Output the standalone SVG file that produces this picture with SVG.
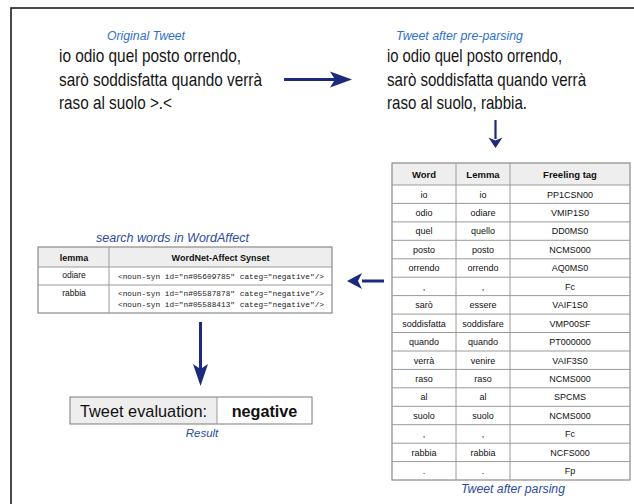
<svg xmlns="http://www.w3.org/2000/svg" width="634" height="504" viewBox="0 0 634 504">
  <style>
    .lbl { font-family: "Liberation Sans", Arial, sans-serif; font-style: italic; font-size: 12.3px; }
    .lbl-a { fill: #2f6fcf; }
    .lbl-b { fill: #2b4ba3; }
    .tweet { font-family: "Liberation Sans Narrow", "Liberation Sans", Arial, sans-serif; font-size: 18.5px; fill: #141414; }
    .th { font-family: "Liberation Sans", Arial, sans-serif; font-size: 9.5px; font-weight: bold; fill: #111; text-anchor: middle; }
    .td { font-family: "Liberation Sans", Arial, sans-serif; font-size: 9px; fill: #111; text-anchor: middle; }
    .mono { font-family: "Liberation Mono", "Courier New", monospace; font-size: 7.8px; fill: #222; }
    .grid { stroke: #9a9a9a; stroke-width: 1; fill: none; }
    .hdr { fill: #eeeeee; }
    .arrow { stroke: #1b2a7e; stroke-width: 3; fill: none; }
    .head { fill: #1b2a7e; }
  </style>

  <!-- outer frame -->
  <rect x="11" y="8" width="640" height="520" fill="#ffffff" stroke="#1e1e1e" stroke-width="1.6"/>

  <!-- original tweet -->
  <g id="original-tweet">
    <text class="lbl lbl-a" x="107" y="40" textLength="78" lengthAdjust="spacingAndGlyphs">Original Tweet</text>
    <text class="tweet" x="59" y="62" textLength="182" lengthAdjust="spacingAndGlyphs">io odio quel posto orrendo,</text>
    <text class="tweet" x="59" y="86" textLength="203" lengthAdjust="spacingAndGlyphs">sarò soddisfatta quando verrà</text>
    <text class="tweet" x="59" y="109" textLength="113" lengthAdjust="spacingAndGlyphs">raso al suolo &gt;.&lt;</text>
  </g>

  <!-- tweet after pre-parsing -->
  <g id="preparsed-tweet">
    <text class="lbl lbl-a" x="396" y="40" textLength="127" lengthAdjust="spacingAndGlyphs">Tweet after pre-parsing</text>
    <text class="tweet" x="387" y="62" textLength="175" lengthAdjust="spacingAndGlyphs">io odio quel posto orrendo,</text>
    <text class="tweet" x="387" y="86" textLength="199" lengthAdjust="spacingAndGlyphs">sarò soddisfatta quando verrà</text>
    <text class="tweet" x="387" y="109" textLength="140" lengthAdjust="spacingAndGlyphs">raso al suolo, rabbia.</text>
  </g>

  <!-- parsing table -->
  <g id="parsed-table">
    <rect x="392" y="163" width="238" height="22" class="hdr"/>
    <rect x="392" y="163" width="238" height="317" fill="none" stroke="#8a8a8a" stroke-width="1.2"/>
    <path class="grid" d="M456 163V480M510 163V480
      M392 185H630M392 203.4H630M392 221.9H630M392 240.3H630M392 258.8H630M392 277.2H630M392 295.6H630M392 314.1H630
      M392 332.5H630M392 351H630M392 369.4H630M392 387.8H630M392 406.3H630M392 424.7H630M392 443.2H630M392 461.6H630"/>
    <text class="th" x="424" y="178">Word</text>
    <text class="th" x="483" y="178">Lemma</text>
    <text class="th" x="570" y="178">Freeling tag</text>

    <text class="td" x="424" y="197.5">io</text><text class="td" x="483" y="197.5">io</text><text class="td" x="570" y="197.5">PP1CSN00</text>
    <text class="td" x="424" y="216">odio</text><text class="td" x="483" y="216">odiare</text><text class="td" x="570" y="216">VMIP1S0</text>
    <text class="td" x="424" y="234.4">quel</text><text class="td" x="483" y="234.4">quello</text><text class="td" x="570" y="234.4">DD0MS0</text>
    <text class="td" x="424" y="252.8">posto</text><text class="td" x="483" y="252.8">posto</text><text class="td" x="570" y="252.8">NCMS000</text>
    <text class="td" x="424" y="271.3">orrendo</text><text class="td" x="483" y="271.3">orrendo</text><text class="td" x="570" y="271.3">AQ0MS0</text>
    <text class="td" x="424" y="289.7">,</text><text class="td" x="483" y="289.7">,</text><text class="td" x="570" y="289.7">Fc</text>
    <text class="td" x="424" y="308.2">sarò</text><text class="td" x="483" y="308.2">essere</text><text class="td" x="570" y="308.2">VAIF1S0</text>
    <text class="td" x="424" y="326.6">soddisfatta</text><text class="td" x="483" y="326.6">soddisfare</text><text class="td" x="570" y="326.6">VMP00SF</text>
    <text class="td" x="424" y="345">quando</text><text class="td" x="483" y="345">quando</text><text class="td" x="570" y="345">PT000000</text>
    <text class="td" x="424" y="363.5">verrà</text><text class="td" x="483" y="363.5">venire</text><text class="td" x="570" y="363.5">VAIF3S0</text>
    <text class="td" x="424" y="381.9">raso</text><text class="td" x="483" y="381.9">raso</text><text class="td" x="570" y="381.9">NCMS000</text>
    <text class="td" x="424" y="400.3">al</text><text class="td" x="483" y="400.3">al</text><text class="td" x="570" y="400.3">SPCMS</text>
    <text class="td" x="424" y="418.8">suolo</text><text class="td" x="483" y="418.8">suolo</text><text class="td" x="570" y="418.8">NCMS000</text>
    <text class="td" x="424" y="437.2">,</text><text class="td" x="483" y="437.2">,</text><text class="td" x="570" y="437.2">Fc</text>
    <text class="td" x="424" y="455.7">rabbia</text><text class="td" x="483" y="455.7">rabbia</text><text class="td" x="570" y="455.7">NCFS000</text>
    <text class="td" x="424" y="474.1">.</text><text class="td" x="483" y="474.1">.</text><text class="td" x="570" y="474.1">Fp</text>

    <text class="lbl lbl-b" x="461" y="493" textLength="104" lengthAdjust="spacingAndGlyphs">Tweet after parsing</text>
  </g>

  <!-- WordAffect lookup table -->
  <g id="wordaffect-table">
    <text class="lbl lbl-b" x="96" y="242" textLength="153" lengthAdjust="spacingAndGlyphs">search words in WordAffect</text>
    <rect x="38" y="247" width="294" height="20" class="hdr"/>
    <rect x="38" y="247" width="294" height="66" fill="none" stroke="#8a8a8a" stroke-width="1.2"/>
    <path class="grid" d="M109 247V313M38 267H332M38 285H332"/>
    <text class="th" x="74" y="260.5" style="font-size:9px">lemma</text>
    <text class="th" x="220.5" y="260.5" style="font-size:9px">WordNet-Affect Synset</text>
    <text class="td" x="74" y="278" style="font-size:8.5px">odiare</text>
    <text class="mono" x="118" y="278.5" textLength="206" lengthAdjust="spacingAndGlyphs">&lt;noun-syn id="n#05609785" categ="negative"/&gt;</text>
    <text class="td" x="74" y="295.5" style="font-size:8.5px">rabbia</text>
    <text class="mono" x="118" y="296" textLength="206" lengthAdjust="spacingAndGlyphs">&lt;noun-syn id="n#05587878" categ="negative"/&gt;</text>
    <text class="mono" x="118" y="306.5" textLength="206" lengthAdjust="spacingAndGlyphs">&lt;noun-syn id="n#05588413" categ="negative"/&gt;</text>
  </g>

  <!-- result box -->
  <g id="result">
    <rect x="70" y="397" width="147" height="27" class="hdr"/>
    <rect x="70" y="397" width="242" height="27" fill="none" stroke="#7a7a7a" stroke-width="1"/>
    <path class="grid" d="M217 397V424"/>
    <text x="80" y="417" font-family="Liberation Sans, Arial, sans-serif" font-size="16.2" fill="#111" textLength="127" lengthAdjust="spacingAndGlyphs">Tweet evaluation:</text>
    <text x="264.5" y="417" font-family="Liberation Sans, Arial, sans-serif" font-size="16.2" font-weight="bold" fill="#111" text-anchor="middle">negative</text>
    <text class="lbl lbl-b" x="202" y="437" text-anchor="middle" style="font-size:11.5px">Result</text>
  </g>

  <!-- connectors -->
  <g id="connectors">
    <path class="arrow" d="M284 79.5H336"/>
    <path class="head" d="M352 79.5L330 71.5L335 79.5L330 87.5Z"/>

    <path class="arrow" d="M495.5 120V139" style="stroke-width:2.2"/>
    <path class="head" d="M495.5 148L488.5 137.5L495.5 140.5L502.5 137.5Z"/>

    <path class="arrow" d="M384 281H362"/>
    <path class="head" d="M347 281L362 273L358 281L362 289Z"/>

    <path class="arrow" d="M200.5 322V370"/>
    <path class="head" d="M200.5 386L193 364L200.5 369L208 364Z"/>
  </g>
</svg>
